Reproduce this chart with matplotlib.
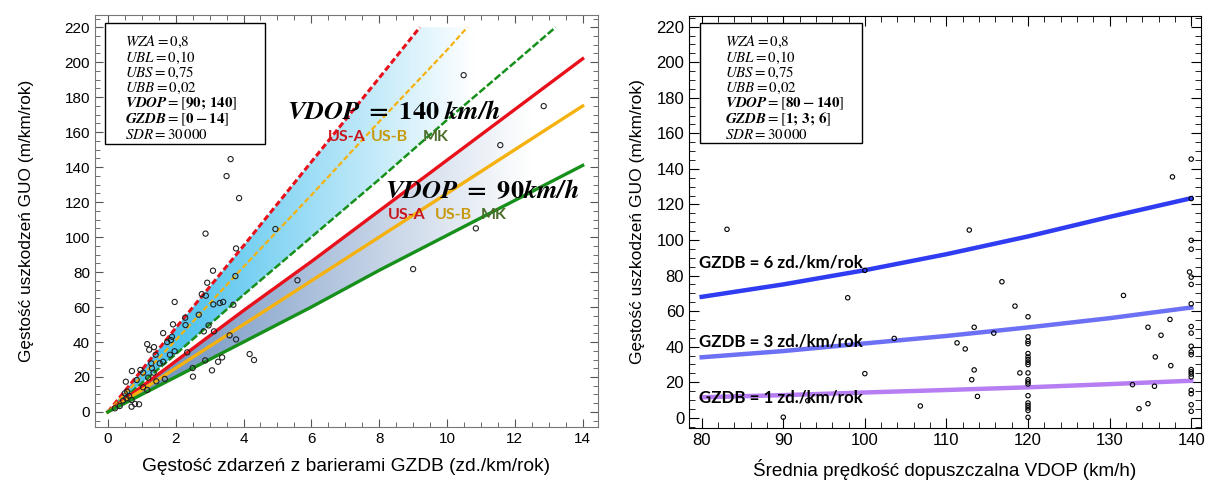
import numpy as np
import matplotlib
matplotlib.use("Agg")
import matplotlib.pyplot as plt
from matplotlib.patches import Rectangle, Polygon
from matplotlib.ticker import MultipleLocator

plt.rcParams["font.family"] = ["Liberation Sans", "DejaVu Sans"]
plt.rcParams["mathtext.fontset"] = "stix"

# --- left panel: GUO vs GZDB ---
gzdb_grid = [0, 2, 4, 6, 8, 10, 12, 14]
usa_90 = [0, 29, 58, 86, 115, 144, 173, 202]
usb_90 = [0, 25, 50, 75, 100, 125, 150, 175]
mk_90 = [0, 20, 40, 60, 81, 101, 121, 141]

usa_140_x = [0, 2, 4, 6, 8, 9.2]
usa_140 = [0, 48, 95, 143, 191, 220]
usb_140_x = [0, 2, 4, 6, 8, 10, 10.6]
usb_140 = [0, 41, 83, 124, 166, 207, 220]
mk_140_x = [0, 2, 4, 6, 8, 10, 12, 13.2]
mk_140 = [0, 33, 67, 100, 133, 167, 200, 220]

obs_gzdb = [3.62, 3.50, 3.87, 2.88, 4.94, 3.78, 3.10, 3.76, 2.93, 2.77,
            2.89, 1.97, 3.11, 3.30, 3.40, 3.70, 2.68, 2.28, 1.92, 2.29,
            2.97, 2.83, 3.13, 1.63, 1.89, 1.86, 1.75, 1.16, 1.36, 1.22,
            1.97, 1.83, 2.34, 1.41, 3.59, 3.78, 4.18, 4.31, 3.37, 3.25,
            2.87, 3.07, 2.50, 2.51, 1.68, 1.35, 1.30, 0.96, 1.04, 0.71,
            0.53, 0.85, 1.19, 1.43, 1.53, 1.28, 1.63, 1.16, 1.04, 0.50,
            0.55, 0.70, 0.70, 0.80, 0.92, 0.35, 0.21, 0.45, 0.63, 0.57,
            10.49, 12.85, 11.57, 10.85, 9.00, 5.59]
obs_guo = [144.6, 134.9, 122.3, 102.0, 104.6, 93.5, 80.8, 77.7, 73.9, 67.4,
           66.5, 62.9, 61.5, 62.3, 62.9, 61.3, 55.6, 53.9, 50.1, 49.7,
           49.5, 46.1, 46.1, 45.1, 43.0, 41.1, 40.0, 38.8, 37.1, 35.6,
           34.7, 32.7, 34.1, 32.7, 43.8, 41.5, 33.1, 29.7, 31.2, 28.7,
           29.5, 23.8, 25.1, 20.2, 18.9, 22.5, 25.0, 24.0, 22.5, 23.4,
           17.3, 18.3, 19.6, 17.5, 27.8, 27.8, 28.7, 12.6, 14.1, 10.7,
           7.8, 6.9, 3.0, 4.6, 4.4, 3.4, 2.1, 6.5, 9.1, 11.6,
           192.6, 174.9, 152.6, 105.0, 81.7, 75.3]

# --- right panel: GUO vs VDOP ---
vdop_grid = [80, 90, 100, 110, 120, 130, 140]
guo_g6 = [68, 75, 83, 92, 102, 113, 123.5]
guo_g3 = [34, 37.5, 41.8, 46, 50.8, 56, 62]
guo_g1 = [11.5, 12.7, 14.2, 15.6, 17.1, 18.9, 20.8]

obs_vdop = [140, 137.7, 140, 112.8, 140, 140, 139.8, 140, 140, 116.8,
            131.7, 118.4, 140, 120, 137.4, 113.4, 134.7, 103.6, 115.8, 136.3,
            140, 140, 111.3, 112.3, 120, 120, 120, 120, 120, 120,
            120, 120, 119, 120, 120, 120, 120, 120, 120, 120,
            120, 120, 120, 113.4, 113.1, 113.8, 106.8, 135.6, 137.5, 140,
            140, 140, 140, 140, 140, 140, 140, 140, 140, 140,
            132.8, 135.5, 134.7, 133.6, 83.1, 97.9, 100, 100, 93, 90]
obs_guo2 = [145.5, 135.5, 123.3, 105.6, 99.8, 94.8, 82.0, 79.1, 75.0, 76.5,
            68.8, 62.8, 64.1, 56.8, 55.3, 50.9, 50.9, 44.6, 47.6, 46.4,
            51.3, 47.6, 42.1, 38.7, 45.5, 43.0, 41.7, 36.1, 34.2, 32.7,
            31.2, 29.9, 25.2, 25.2, 21.4, 20.1, 19.0, 12.4, 8.3, 6.9,
            5.5, 4.1, 0.2, 26.9, 21.4, 12.0, 6.6, 34.2, 29.3, 40.2,
            37.0, 35.5, 27.1, 25.8, 24.6, 23.0, 15.4, 13.5, 7.3, 3.6,
            18.6, 17.7, 7.9, 5.1, 106.0, 67.5, 82.9, 24.8, 9.6, 0.3]

params_left = [r"$WZA = 0{,}8$", r"$UBL = 0{,}10$", r"$UBS = 0{,}75$",
               r"$UBB = 0{,}02$", r"$\mathbfit{VDOP} = [\mathbf{90;\,140}]$",
               r"$\mathbfit{GZDB} = [\mathbf{0 - 14}]$", r"$SDR = 30\,000$"]
params_right = [r"$WZA = 0{,}8$", r"$UBL = 0{,}10$", r"$UBS = 0{,}75$",
                r"$UBB = 0{,}02$", r"$\mathbfit{VDOP} = [\mathbf{80 - 140}]$",
                r"$\mathbfit{GZDB} = [\mathbf{1;\,3;\,6}]$", r"$SDR = 30\,000$"]

RED, ORANGE, GREEN = "#e8111b", "#f5b20e", "#16901a"

fig = plt.figure(figsize=(12.08, 4.86), dpi=100)
ax1 = fig.add_axes([0.0786, 0.1214, 0.4164, 0.8477])
ax2 = fig.add_axes([0.5704, 0.1193, 0.4238, 0.8477])


def gradient_band(ax, x_lo, y_lo, x_hi, y_hi, c0, x0, x1):
    """Fill the band between two lines with a left-to-right fade to white."""
    xs = np.linspace(0, 14, 300)
    lo = np.interp(xs, x_lo, y_lo, right=np.nan)
    hi = np.interp(xs, x_hi, y_hi, right=np.nan)
    hi = np.where(np.isnan(hi), 220, hi)
    keep = ~np.isnan(lo)
    xs, lo, hi = xs[keep], lo[keep], np.minimum(hi[keep], 220)
    verts = np.column_stack([np.r_[xs, xs[::-1]], np.r_[lo, hi[::-1]]])
    poly = Polygon(verts, closed=True, facecolor="none", edgecolor="none",
                   transform=ax.transData)
    ax.add_patch(poly)
    c0 = np.array(matplotlib.colors.to_rgb(c0))
    t = np.clip((xs - x0) / (x1 - x0), 0, 1)[None, :, None]
    img = c0 * (1 - t) + np.ones(3) * t
    im = ax.imshow(img, extent=[xs[0], xs[-1], 0, 220], origin="lower",
                   aspect="auto", zorder=1)
    im.set_clip_path(poly)


gradient_band(ax1, mk_140_x, mk_140, usa_140_x, usa_140, "#4ec2ee", 2.0, 10.8)
gradient_band(ax1, gzdb_grid, mk_90, gzdb_grid, usa_90, "#6a8fbf", 1.0, 12.5)

ax1.plot(usa_140_x, usa_140, color=RED, lw=2.2, ls=(0, (2, 1)), zorder=3)
ax1.plot(usb_140_x, usb_140, color=ORANGE, lw=1.6, ls=(0, (2.5, 1.2)), zorder=3)
ax1.plot(mk_140_x, mk_140, color=GREEN, lw=1.8, ls=(0, (3, 1)), zorder=3)
ax1.plot(gzdb_grid, usa_90, color=RED, lw=2.4, zorder=3)
ax1.plot(gzdb_grid, usb_90, color=ORANGE, lw=2.4, zorder=3)
ax1.plot(gzdb_grid, mk_90, color=GREEN, lw=2.4, zorder=3)
ax1.scatter(obs_gzdb, obs_guo, s=14, facecolors="none", edgecolors="#222222",
            linewidths=0.8, zorder=4)

ax1.set_xlim(-0.38, 14.45)
ax1.set_ylim(-8.6, 227)
ax1.xaxis.set_major_locator(MultipleLocator(2))
ax1.xaxis.set_minor_locator(MultipleLocator(0.5))
ax1.yaxis.set_major_locator(MultipleLocator(20))
ax1.yaxis.set_minor_locator(MultipleLocator(5))
ax1.tick_params(which="both", direction="in", top=True, right=True,
                color="#555555", labelsize=11)
ax1.tick_params(which="major", length=6)
ax1.tick_params(which="minor", length=3.5)
for s in ax1.spines.values():
    s.set_color("#777777")
ax1.set_xlabel("Gęstość zdarzeń z barierami GZDB (zd./km/rok)", fontsize=13.8, labelpad=9)
ax1.set_ylabel("Gęstość uszkodzeń GUO (m/km/rok)", fontsize=12.4, labelpad=22)

big = dict(fontsize=19, color="black", zorder=6)
ax1.text(0.381, 0.765, r"$\mathbfit{VDOP}\ \mathbf{=\ 140}\ \mathbfit{km/h}$",
         transform=ax1.transAxes, ha="left", va="center", **big)
ax1.text(0.577, 0.571, r"$\mathbfit{VDOP}\ \mathbf{=\ 90}\mathbfit{km/h}$",
         transform=ax1.transAxes, ha="left", va="center", **big)
lab = dict(fontsize=11.5, fontweight="bold", family="Lato", va="center",
           transform=ax1.transAxes, zorder=6)
for x0, y0, dx1, dx2 in [(0.463, 0.705, 0.086, 0.188), (0.583, 0.515, 0.093, 0.184)]:
    ax1.text(x0, y0, "US-A", color="#c8161d", **lab)
    ax1.text(x0 + dx1, y0, "US-B", color="#c79a12", **lab)
    ax1.text(x0 + dx2, y0, "MK", color="#4b6b2a", **lab)

ax1.add_patch(Rectangle((0.02, 0.687), 0.318, 0.293, transform=ax1.transAxes,
                        facecolor="white", edgecolor="black", lw=1.0, zorder=5))
for i, s in enumerate(params_left):
    ax1.text(0.06, (427 - 42 - 15.5 * i) / 412, s, transform=ax1.transAxes,
             fontsize=10.8, va="center", ha="left", zorder=6)

# right panel
ax2.plot(vdop_grid, guo_g6, color="#2f3cf2", lw=3.2, zorder=3)
ax2.plot(vdop_grid, guo_g3, color="#6c70f5", lw=3.2, zorder=3)
ax2.plot(vdop_grid, guo_g1, color="#b77df2", lw=3.2, zorder=3)
ax2.scatter(obs_vdop, obs_guo2, s=10, facecolors="none", edgecolors="black",
            linewidths=0.8, zorder=4)
ax2.set_xlim(78.45, 141.2)
ax2.set_ylim(-5.8, 226)
ax2.xaxis.set_major_locator(MultipleLocator(10))
ax2.xaxis.set_minor_locator(MultipleLocator(2))
ax2.yaxis.set_major_locator(MultipleLocator(20))
ax2.yaxis.set_minor_locator(MultipleLocator(5))
ax2.tick_params(which="both", direction="in", top=True, right=True, labelsize=12)
ax2.tick_params(which="major", length=7)
ax2.tick_params(which="minor", length=4)
ax2.set_xlabel("Średnia prędkość dopuszczalna VDOP (km/h)", fontsize=13.6, labelpad=8)
ax2.set_ylabel("Gęstość uszkodzeń GUO (m/km/rok)", fontsize=12.5, labelpad=8)

gl = dict(fontsize=12.2, fontweight="bold", family="Lato", ha="left",
          va="center", transform=ax2.transAxes, zorder=6)
ax2.text(0.02, (428 - 262) / 412, "GZDB = 6 zd./km/rok", **gl)
ax2.text(0.02, (428 - 341) / 412, "GZDB = 3 zd./km/rok", **gl)
ax2.text(0.02, (428 - 397) / 412, "GZDB = 1 zd./km/rok", **gl)

ax2.add_patch(Rectangle((0.0215, 0.692), 0.317, 0.29, transform=ax2.transAxes,
                        facecolor="white", edgecolor="black", lw=1.0, zorder=5))
for i, s in enumerate(params_right):
    ax2.text(0.07, (428 - 42 - 15.5 * i) / 412, s, transform=ax2.transAxes,
             fontsize=10.8, va="center", ha="left", zorder=6)

fig.savefig("out.png", dpi=100)
